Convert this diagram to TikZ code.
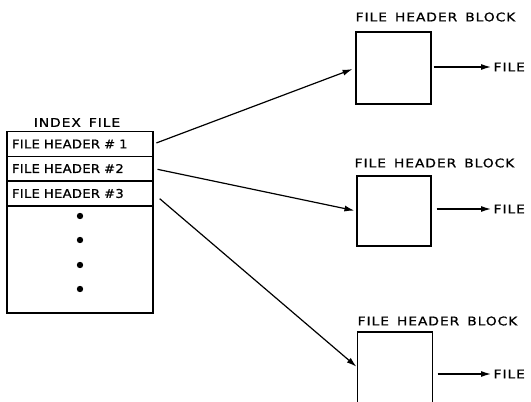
\documentclass[tikz,border=0pt]{standalone}
\usepackage{fontspec}
\setmainfont{DejaVu Sans}
\newfontfamily\lblfont{DejaVu Sans}[FakeStretch=1.15,LetterSpace=8,WordSpace=1.5,FakeBold=0.8]
\newfontfamily\rowfont{DejaVu Sans}[FakeStretch=1.1,LetterSpace=2,WordSpace=1.3,FakeBold=0.8]
\usetikzlibrary{arrows.meta,calc}
\begin{document}
\begin{tikzpicture}[x=1pt,y=-1pt,
  every node/.style={font=\lblfont\fontsize{12}{14}\selectfont, inner sep=0pt},
  line width=1.2pt,
  rowtext/.style={font=\rowfont\fontsize{12}{14}\selectfont},
  rowbox/.style={draw, rowtext, minimum width=146pt, minimum height=24.5pt,
    text width=136pt, align=left, inner xsep=5pt},
  blockbox/.style={draw, minimum width=75pt, minimum height=72pt},
  arr/.style={-{Latex[length=10pt,width=6pt]}}]
\useasboundingbox (0,0) rectangle (531,402);

% index file
\node (title) at (77,122.5) {INDEX FILE};
\node[rowbox] (h1) at (80,144) {FILE HEADER \# 1};
\node[rowbox] (h2) at (80,168.5) {FILE HEADER \#2};
\node[rowbox] (h3) at (80,193.5) {FILE HEADER \#3};
\node[draw, minimum width=146pt, minimum height=107pt] (rest) at (80,259.5) {};
\foreach \y in {216,240,265,289} \fill (80,\y) circle (3.2pt);

% blocks
\node[blockbox] (b1) at (393.5,68) {};
\node[blockbox, minimum width=74pt, minimum height=70pt] (b2) at (394,211) {};
\node[minimum width=74pt, minimum height=70pt, anchor=north] (b3) at (395,332) {};
\draw (b3.south west) -- (b3.north west) -- (b3.north east) -- (b3.south east);
\coordinate (b3in) at (358,368);

\node (l1) at (435.5,17) {FILE HEADER BLOCK};
\node (l2) at (434.5,163) {FILE HEADER BLOCK};
\node (l3) at (437.5,321) {FILE HEADER BLOCK};

\node[anchor=west] (f1) at (493,67) {FILE};
\node[anchor=west] (f2) at (493,209) {FILE};
\node[anchor=west] (f3) at (493,374) {FILE};

\draw[arr, shorten <=3pt, shorten >=3pt] (h1.east) -- (b1.west);
\draw[arr, shorten <=4pt, shorten >=2pt] (h2.east) -- (b2.west);
\draw[arr, shorten <=8pt, shorten >=2pt] (h3.east) -- (b3in);

\draw[arr, shorten >=2pt] ([xshift=2pt]b1.east |- f1.west) -- (f1.west);
\draw[arr, shorten >=2pt] ([xshift=5pt]b2.east |- f2.west) -- (f2.west);
\draw[arr, shorten >=2pt] ([xshift=5pt]b3.east |- f3.west) -- (f3.west);
\end{tikzpicture}
\end{document}
